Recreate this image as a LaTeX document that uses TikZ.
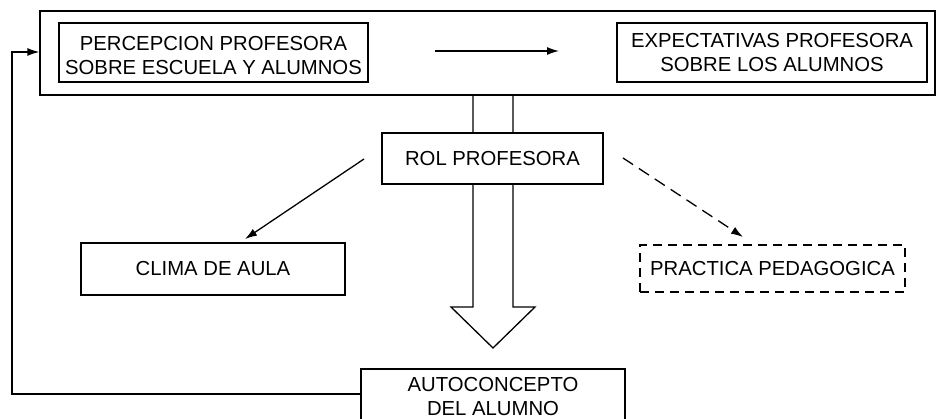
\documentclass[tikz,border=0pt]{standalone}
\usepackage{fontspec}
\setmainfont{Liberation Sans}
\usetikzlibrary{arrows.meta}
\begin{document}
\begin{tikzpicture}[x=1pt,y=-1pt,
  box/.style={draw, line width=1.3pt, inner sep=0pt, align=center, font=\fontsize{20.3}{23.5}\selectfont},
  dbox/.style={box, dash pattern=on 9pt off 6pt},
  arr/.style={line width=1.3pt, -{Latex[length=12pt,width=8pt]}},
  darr/.style={arr, dash pattern=on 12pt off 7pt},
  bigarrow/.style={line width=1.3pt, fill=white},
]
\useasboundingbox (0,0) rectangle (937,419);
% broad arrow from the top frame to the self-concept box
\draw[bigarrow] (473,95) -- (473,307) -- (451,307) -- (493,348) -- (535,307) -- (513,307) -- (513,95);
% nodes
\node[box, minimum width=895pt, minimum height=84pt] (outer) at (487.5,53) {};
\node[box, minimum width=309pt, minimum height=59pt,
      label={[font=\fontsize{20.3}{23.5}\selectfont, align=center, yshift=-3pt]center:PERCEPCION PROFESORA\\SOBRE ESCUELA Y ALUMNOS}] (perc) at (213.5,52.5) {};
\node[box, minimum width=310pt, minimum height=59pt] (expe) at (772,52.5) {EXPECTATIVAS PROFESORA\\SOBRE LOS ALUMNOS};
\node[box, fill=white, minimum width=221pt, minimum height=51pt] (rol) at (492.5,158.5) {ROL PROFESORA};
\node[box, minimum width=264pt, minimum height=52pt] (clima) at (213,269) {CLIMA DE AULA};
\node[dbox, minimum width=265pt, minimum height=47pt] (prac) at (772.5,268.5) {PRACTICA PEDAGOGICA};
\node[box, minimum width=264pt, minimum height=55pt] (auto) at (493,396.5) {AUTOCONCEPTO\\DEL ALUMNO};
% connector end points
\coordinate (p1) at (435,51);
\coordinate (p2) at (559,51);
\coordinate (c1) at (364,159);
\coordinate (c2) at (245,239);
\coordinate (d1) at (623,158);
\coordinate (d2) at (743,237);
\coordinate (fb) at (12,52);
% connectors
\draw[arr] (p1) -- (p2);
\draw[arr] (c1) -- (c2);
\draw[darr] (d1) -- (d2);
\draw[arr] ([yshift=2.5pt]auto.west) -| (fb) -- (outer.west |- fb);
\end{tikzpicture}
\end{document}
